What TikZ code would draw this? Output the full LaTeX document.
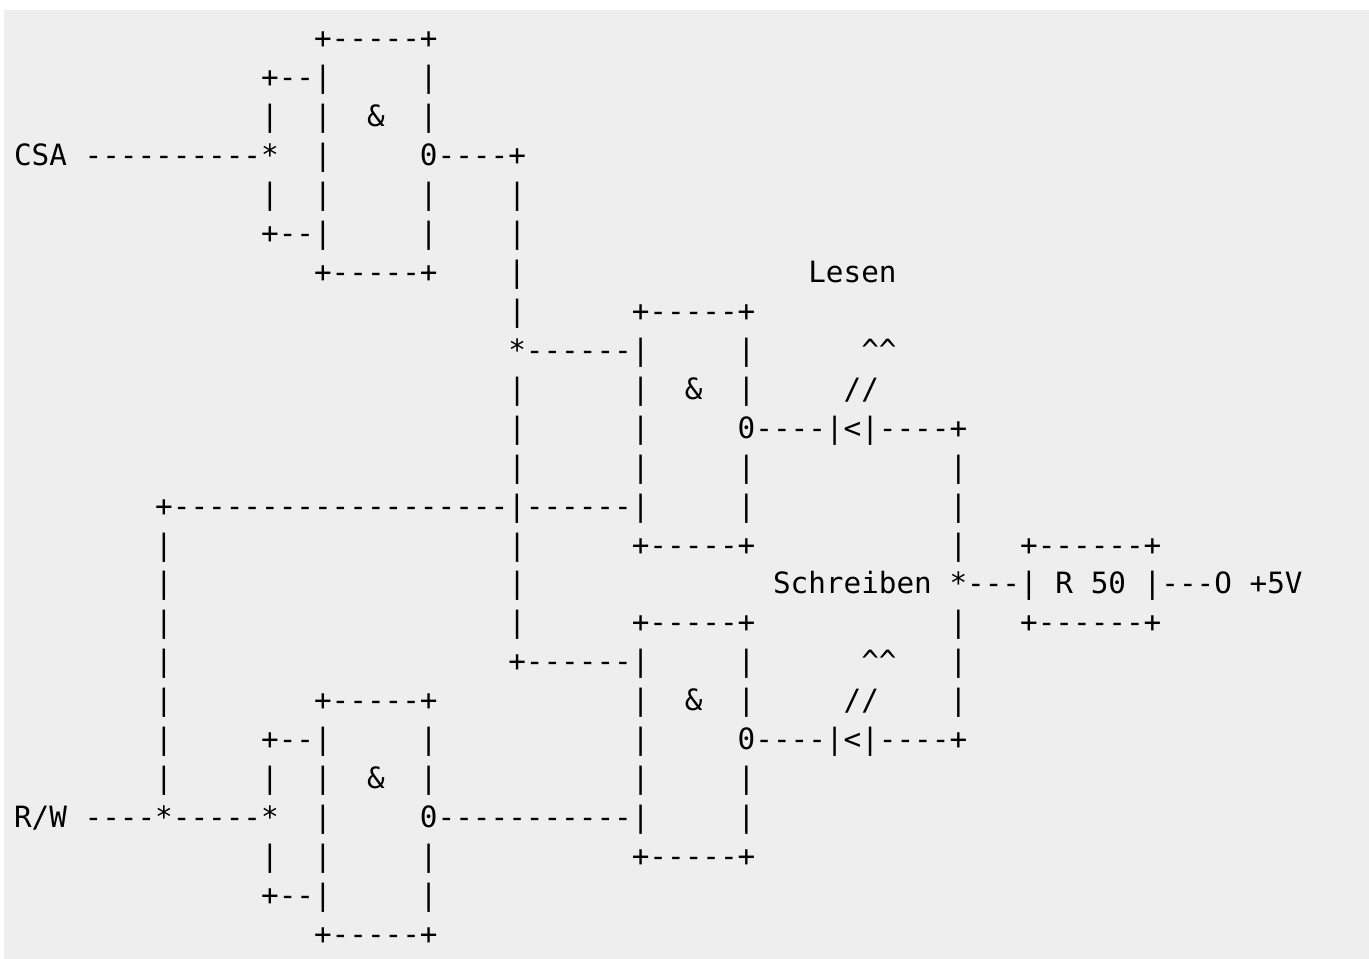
\documentclass[tikz,border=0pt]{standalone}
\usepackage{fontspec}
\usepackage{xcolor}
\newfontfamily\asciifont{DejaVu Sans Mono}
\definecolor{pagegray}{HTML}{EEEEEE}
\tikzset{
  rowtext/.style={anchor=base west,inner sep=0pt,outer sep=0pt,text=black,font=\asciifont\fontsize{29.32}{39}\selectfont}
}

\begin{document}
\begin{tikzpicture}[x=1pt,y=-1pt]
% Page and grey block
\useasboundingbox (0,0) rectangle (1369,959);
\fill[pagegray] (4,10) rectangle (1369,959);

% One node per text row
\foreach \r/\rowtxt in {
  0/{~~~~~~~~~~~~~~~~~+-----+},
  1/{~~~~~~~~~~~~~~+--|~~~~~|},
  2/{~~~~~~~~~~~~~~|~~|~~\&~~|},
  3/{CSA~----------*~~|~~~~~0----+},
  4/{~~~~~~~~~~~~~~|~~|~~~~~|~~~~|},
  5/{~~~~~~~~~~~~~~+--|~~~~~|~~~~|},
  6/{~~~~~~~~~~~~~~~~~+-----+~~~~|~~~~~~~~~~~~~~~~Lesen},
  7/{~~~~~~~~~~~~~~~~~~~~~~~~~~~~|~~~~~~+-----+},
  8/{~~~~~~~~~~~~~~~~~~~~~~~~~~~~*------|~~~~~|~~~~~~\textasciicircum\textasciicircum},
  9/{~~~~~~~~~~~~~~~~~~~~~~~~~~~~|~~~~~~|~~\&~~|~~~~~//},
  10/{~~~~~~~~~~~~~~~~~~~~~~~~~~~~|~~~~~~|~~~~~0----|<|----+},
  11/{~~~~~~~~~~~~~~~~~~~~~~~~~~~~|~~~~~~|~~~~~|~~~~~~~~~~~|},
  12/{~~~~~~~~+-------------------|------|~~~~~|~~~~~~~~~~~|},
  13/{~~~~~~~~|~~~~~~~~~~~~~~~~~~~|~~~~~~+-----+~~~~~~~~~~~|~~~+------+},
  14/{~~~~~~~~|~~~~~~~~~~~~~~~~~~~|~~~~~~~~~~~~~~Schreiben~*---|~R~50~|---O~+5V},
  15/{~~~~~~~~|~~~~~~~~~~~~~~~~~~~|~~~~~~+-----+~~~~~~~~~~~|~~~+------+},
  16/{~~~~~~~~|~~~~~~~~~~~~~~~~~~~+------|~~~~~|~~~~~~\textasciicircum\textasciicircum~~~|},
  17/{~~~~~~~~|~~~~~~~~+-----+~~~~~~~~~~~|~~\&~~|~~~~~//~~~~|},
  18/{~~~~~~~~|~~~~~+--|~~~~~|~~~~~~~~~~~|~~~~~0----|<|----+},
  19/{~~~~~~~~|~~~~~|~~|~~\&~~|~~~~~~~~~~~|~~~~~|},
  20/{R/W~----*-----*~~|~~~~~0-----------|~~~~~|},
  21/{~~~~~~~~~~~~~~|~~|~~~~~|~~~~~~~~~~~+-----+},
  22/{~~~~~~~~~~~~~~+--|~~~~~|},
  23/{~~~~~~~~~~~~~~~~~+-----+}
} {
  \node[rowtext] (row\r) at (14,48.4+38.97*\r) {\rowtxt};
}
\end{tikzpicture}
\end{document}
